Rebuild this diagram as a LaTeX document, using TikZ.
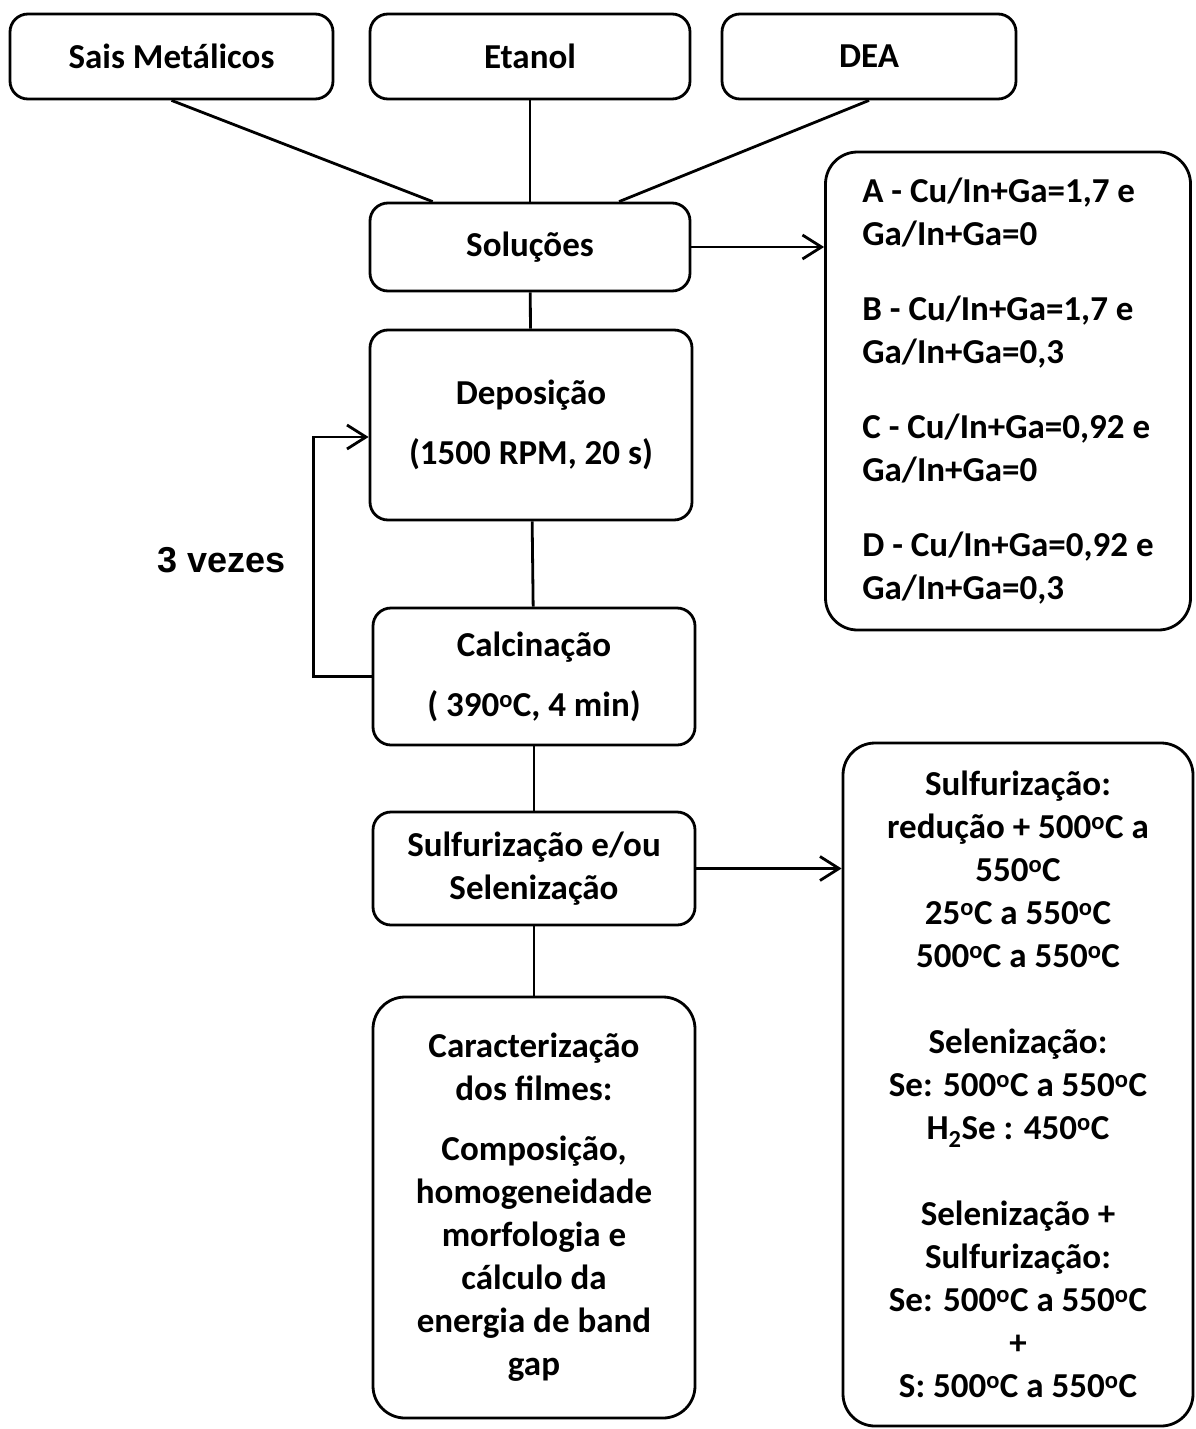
\documentclass[tikz,border=0pt]{standalone}
\usepackage{fontspec}
\setmainfont{Carlito}
\newfontfamily\arialfont{Liberation Sans}
\usetikzlibrary{arrows.meta}
\newcommand{\gC}{\textsuperscript{o}C}
\tikzset{
  box/.style={draw, line width=2.8pt, rounded corners=18pt, align=center, inner sep=0pt,
    font=\bfseries\fontsize{35}{43}\selectfont},
  bigbox/.style={box, rounded corners=32pt},
  link/.style={line width=2.8pt},
  arr/.style={link, -{Straight Barb[length=19pt,width=24pt]}}
}
\begin{document}
\begin{tikzpicture}[x=1pt,y=-1pt]
      \useasboundingbox (0,0) rectangle (1195,1429);
      \draw
        (171.5,56.5) node[box,minimum width=323pt,minimum height=85pt] (sais){Sais Metálicos}
        (530,56.5) node[box,minimum width=320pt,minimum height=85pt] (etanol){Etanol}
        (869,56.5) node[box,minimum width=294pt,minimum height=85pt] (dea){DEA}
        (530,247) node[box,minimum width=320pt,minimum height=88pt] (sol){Soluções}
        (531,425) node[box,minimum width=322pt,minimum height=190pt] (dep){Deposição\\[17pt](1500 RPM, 20 s)}
        (534,676.5) node[box,minimum width=322pt,minimum height=137pt] (calc){Calcinação\\[17pt]( 390\gC, 4 min)}
        (534,868.5) node[box,minimum width=322pt,minimum height=113pt] (sulf){Sulfurização e/ou\\Selenização}
        (534,1207.5) node[bigbox,minimum width=322pt,minimum height=421pt] (carac){Caracterização\\dos filmes:\\[17pt]Composição,\\homogeneidade\\morfologia e\\cálculo da\\energia de band\\gap}
        (1008,391) node[bigbox,minimum width=365pt,minimum height=478pt,align=left] (comp){A - Cu/In+Ga=1,7 e\\Ga/In+Ga=0\\[32pt]B - Cu/In+Ga=1,7 e\\Ga/In+Ga=0,3\\[32pt]C - Cu/In+Ga=0,92 e\\Ga/In+Ga=0\\[32pt]D - Cu/In+Ga=0,92 e\\Ga/In+Ga=0,3}
        (1018,1084.5) node[bigbox,minimum width=350pt,minimum height=683pt] (trat){Sulfurização:\\redução + 500\gC{} a\\550\gC\\25\gC{} a 550\gC\\500\gC{} a 550\gC\\[43pt]Selenização:\\Se: 500\gC{} a 550\gC\\H\textsubscript{2}Se : 450\gC\\[43pt]Selenização +\\Sulfurização:\\Se: 500\gC{} a 550\gC\\+\\S: 500\gC{} a 550\gC}
        (221.5,560) node[font=\arialfont\bfseries\fontsize{36}{40}\selectfont] (vezes){3 vezes};
      \begin{scope}[link]
        \draw (sais.south) to (sol.155);
        \draw (etanol) to (sol);
        \draw (dea.south) to (sol.27);
        \draw (sol) to (dep);
        \draw (dep) to (calc);
        \draw (calc) to (sulf);
        \draw (sulf) to (carac);
        \draw[arr] (sol.east) to (sol.east -| comp.west);
        \draw[arr] (sulf.east) to (sulf.east -| trat.west);
        \draw[arr] (calc.west) -- ++(-58,0) |- ([yshift=-12pt]dep.west);
      \end{scope}
    \end{tikzpicture}
\end{document}
